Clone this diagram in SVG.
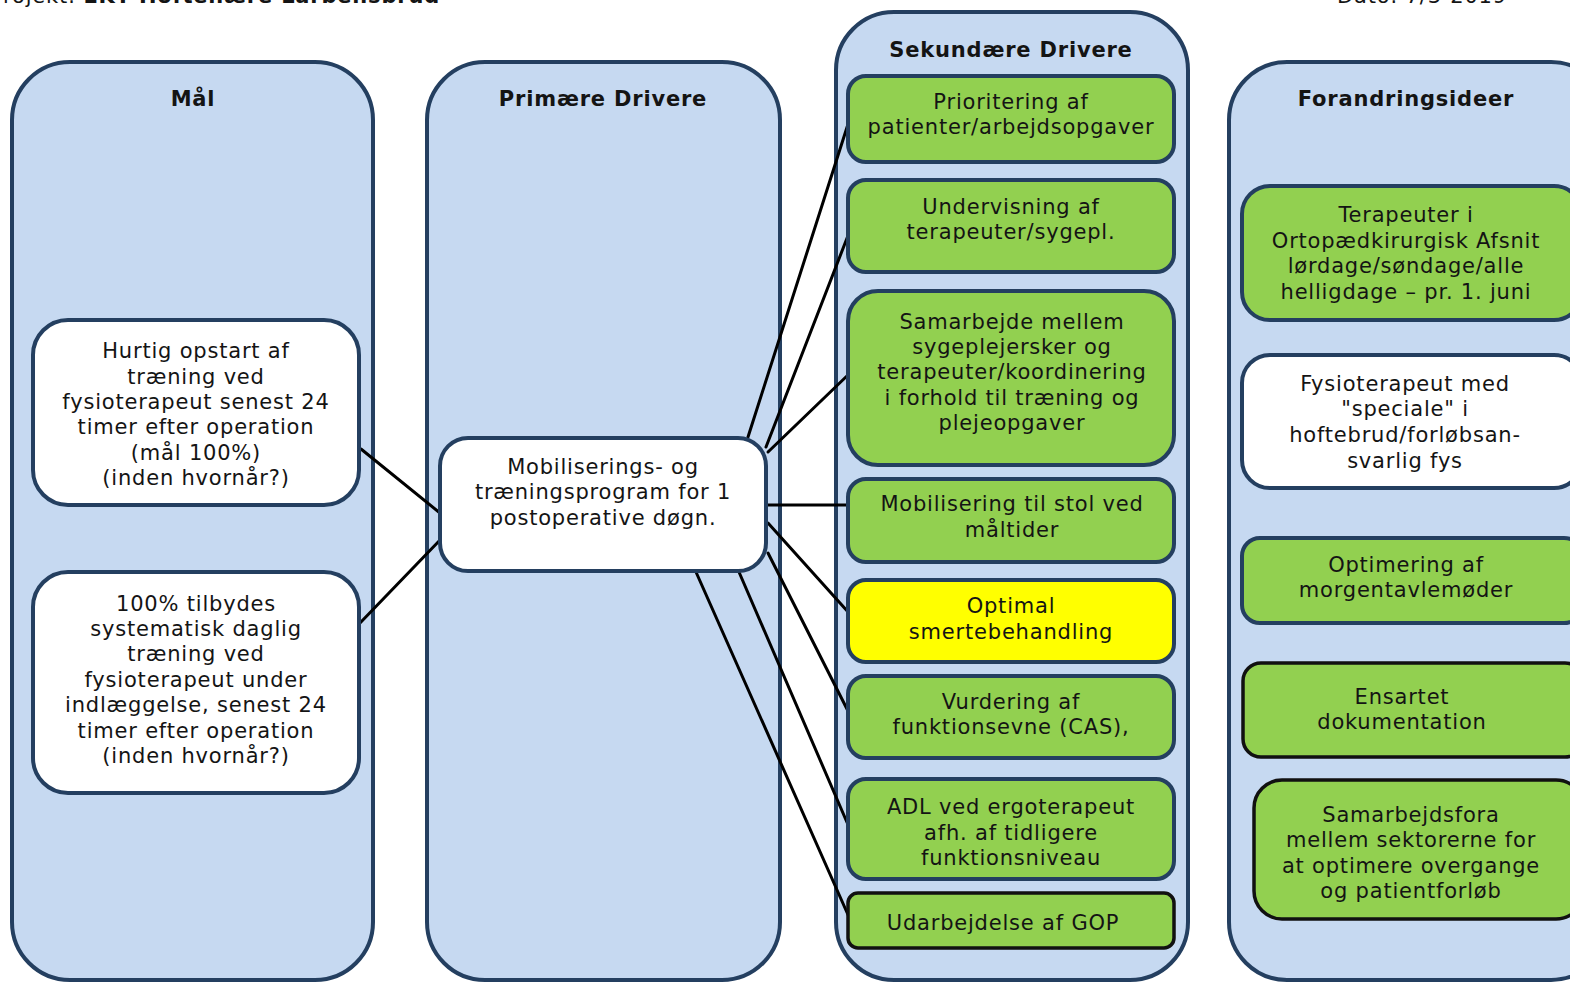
<svg xmlns="http://www.w3.org/2000/svg" width="1570" height="982" viewBox="0 0 1570 982">
<style>
.col{fill:#C6D9F1;stroke:#243F60;stroke-width:4}
.wb{fill:#FFFFFF;stroke:#243F60;stroke-width:4}
.gb{fill:#92D050;stroke:#243F60;stroke-width:4}
.gk{fill:#92D050;stroke:#111111;stroke-width:3.5}
.yb{fill:#FFFF00;stroke:#243F60;stroke-width:4}
text{font-family:"DejaVu Sans",Verdana,sans-serif;font-size:21px;letter-spacing:0.8px;fill:#141414;text-anchor:middle}
.h{font-weight:bold;font-size:21px;letter-spacing:0.8px}
.top{text-anchor:start}
.conn line{stroke:#000;stroke-width:3;stroke-linecap:round}
</style>
<rect width="1570" height="982" fill="#FFFFFF"/>
<text class="top" x="-10" y="3">Projekt: <tspan font-weight="bold">EKT Hoftenære Lårbensbrud</tspan></text>
<text class="top" x="1337" y="3">Dato: 7/3-2019</text>

<g id="col-maal"><rect class="col" x="12" y="62" width="361" height="918" rx="58"/><text class="h" x="193" y="106">Mål</text></g>
<g id="col-primaere"><rect class="col" x="427" y="62" width="353" height="918" rx="58"/><text class="h" x="603" y="106">Primære Drivere</text></g>
<g id="col-sekundaere"><rect class="col" x="836" y="12" width="352" height="968" rx="58"/><text class="h" x="1011" y="57">Sekundære Drivere</text></g>
<g id="col-forandring"><rect class="col" x="1229" y="62" width="380" height="918" rx="58"/><text class="h" x="1406" y="106">Forandringsideer</text></g>

<g class="conn" id="connectors">
<line x1="361" y1="449" x2="440" y2="513"/>
<line x1="360" y1="623" x2="441" y2="539"/>
<line x1="748" y1="437" x2="849" y2="121"/>
<line x1="766" y1="447" x2="849" y2="233"/>
<line x1="768" y1="452" x2="849" y2="374"/>
<line x1="768" y1="505" x2="849" y2="505"/>
<line x1="768" y1="523" x2="849" y2="613"/>
<line x1="768" y1="553" x2="849" y2="713"/>
<line x1="739" y1="572" x2="849" y2="827"/>
<line x1="696" y1="572" x2="849" y2="917"/>
</g>

<g id="maal1"><rect class="wb" x="33" y="320" width="326" height="185" rx="35"/>
<text x="196" y="358">Hurtig opstart af</text><text x="196" y="384">træning ved</text><text x="196" y="409">fysioterapeut senest 24</text><text x="196" y="434">timer efter operation</text><text x="196" y="460">(mål 100%)</text><text x="196" y="485">(inden hvornår?)</text></g>
<g id="maal2"><rect class="wb" x="33" y="572" width="326" height="221" rx="35"/>
<text x="196" y="611">100% tilbydes</text><text x="196" y="636">systematisk daglig</text><text x="196" y="661">træning ved</text><text x="196" y="687">fysioterapeut under</text><text x="196" y="712">indlæggelse, senest 24</text><text x="196" y="738">timer efter operation</text><text x="196" y="763">(inden hvornår?)</text></g>

<g id="primaer1"><rect class="wb" x="440" y="438" width="326" height="133" rx="28"/>
<text x="603" y="474">Mobiliserings- og</text><text x="603" y="499">træningsprogram for 1</text><text x="603" y="525">postoperative døgn.</text></g>

<g id="sek1"><rect class="gb" x="848" y="76" width="326" height="86" rx="18"/><text x="1011" y="109">Prioritering af</text><text x="1011" y="134">patienter/arbejdsopgaver</text></g>
<g id="sek2"><rect class="gb" x="848" y="180" width="326" height="92" rx="18"/><text x="1011" y="214">Undervisning af</text><text x="1011" y="239">terapeuter/sygepl.</text></g>
<g id="sek3"><rect class="gb" x="848" y="291" width="326" height="174" rx="30"/><text x="1012" y="329">Samarbejde mellem</text><text x="1012" y="354">sygeplejersker og</text><text x="1012" y="379">terapeuter/koordinering</text><text x="1012" y="405">i forhold til træning og</text><text x="1012" y="430">plejeopgaver</text></g>
<g id="sek4"><rect class="gb" x="848" y="479" width="326" height="83" rx="18"/><text x="1012" y="511">Mobilisering til stol ved</text><text x="1012" y="537">måltider</text></g>
<g id="sek5"><rect class="yb" x="848" y="580" width="326" height="82" rx="18"/><text x="1011" y="613">Optimal</text><text x="1011" y="639">smertebehandling</text></g>
<g id="sek6"><rect class="gb" x="848" y="676" width="326" height="82" rx="18"/><text x="1011" y="709">Vurdering af</text><text x="1011" y="734">funktionsevne (CAS),</text></g>
<g id="sek7"><rect class="gb" x="848" y="779" width="326" height="100" rx="18"/><text x="1011" y="814">ADL ved ergoterapeut</text><text x="1011" y="840">afh. af tidligere</text><text x="1011" y="865">funktionsniveau</text></g>
<g id="sek8"><rect class="gk" x="848" y="893" width="326" height="55" rx="10"/><text x="1003" y="930">Udarbejdelse af GOP</text></g>

<g id="for1"><rect class="gb" x="1242" y="186" width="340" height="134" rx="28"/><text x="1406" y="222">Terapeuter i</text><text x="1406" y="248">Ortopædkirurgisk Afsnit</text><text x="1406" y="273">lørdage/søndage/alle</text><text x="1406" y="299">helligdage – pr. 1. juni</text></g>
<g id="for2"><rect class="wb" x="1242" y="355" width="340" height="133" rx="28"/><text x="1405" y="391">Fysioterapeut med</text><text x="1405" y="416">"speciale" i</text><text x="1405" y="442">hoftebrud/forløbsan-</text><text x="1405" y="468">svarlig fys</text></g>
<g id="for3"><rect class="gb" x="1242" y="538" width="340" height="85" rx="18"/><text x="1406" y="572">Optimering af</text><text x="1406" y="597">morgentavlemøder</text></g>
<g id="for4"><rect class="gk" x="1243" y="663" width="340" height="94" rx="18"/><text x="1402" y="704">Ensartet</text><text x="1402" y="729">dokumentation</text></g>
<g id="for5"><rect class="gk" x="1254" y="780" width="330" height="139" rx="28"/><text x="1411" y="822">Samarbejdsfora</text><text x="1411" y="847">mellem sektorerne for</text><text x="1411" y="873">at optimere overgange</text><text x="1411" y="898">og patientforløb</text></g>
</svg>
